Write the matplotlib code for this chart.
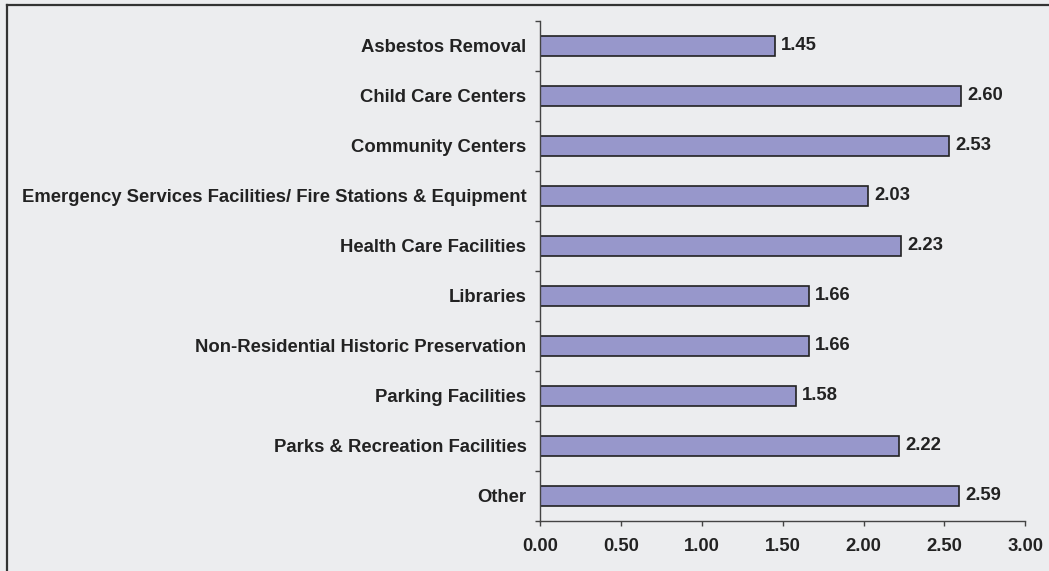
import matplotlib
matplotlib.use("Agg")
import matplotlib.pyplot as plt
from matplotlib.lines import Line2D
import numpy as np

categories = [
    "Asbestos Removal",
    "Child Care Centers",
    "Community Centers",
    "Emergency Services Facilities/ Fire Stations & Equipment",
    "Health Care Facilities",
    "Libraries",
    "Non-Residential Historic Preservation",
    "Parking Facilities",
    "Parks & Recreation Facilities",
    "Other",
]
values = [1.45, 2.60, 2.53, 2.03, 2.23, 1.66, 1.66, 1.58, 2.22, 2.59]
x_ticks = [0.0, 0.5, 1.0, 1.5, 2.0, 2.5, 3.0]

plt.rcParams["font.family"] = ["Liberation Sans", "DejaVu Sans"]
plt.rcParams["font.weight"] = "bold"

bg = "#ecedef"
bar_color = "#9797cb"
ink = "#222222"
axis_grey = "#444444"
fs = 13.3

W, H = 1049, 571
fig = plt.figure(figsize=(W / 100, H / 100), dpi=100, facecolor=bg)
ax = fig.add_axes([540.3 / W, 50 / H, 485 / W, 500 / H])
ax.set_facecolor(bg)

n = len(categories)
pos = np.arange(n)
ax.barh(pos, values, height=0.4, color=bar_color, edgecolor=ink, linewidth=1.2)

for p, v in zip(pos, values):
    ax.annotate(f"{v:.2f}", xy=(v, p), xytext=(4.5, 0), textcoords="offset points",
                va="center", ha="left", fontsize=fs, fontweight="bold", color=ink)

ax.set_ylim(n - 0.5, -0.5)
ax.set_xlim(0, 3.0)
ax.set_yticks(pos)
ax.set_yticklabels(categories, fontsize=fs, fontweight="bold", color=ink)
ax.set_yticks(np.arange(n + 1) - 0.5, minor=True)
ax.tick_params(axis="y", which="major", length=0, pad=10)
ax.tick_params(axis="y", which="minor", length=3.5, width=1, color=axis_grey, direction="out")
ax.set_xticks(x_ticks)
ax.set_xticklabels([f"{t:.2f}" for t in x_ticks], fontsize=fs, fontweight="bold", color=ink)
ax.tick_params(axis="x", length=3.5, width=1, color=axis_grey, direction="out", pad=8.5)

for side in ("top", "right"):
    ax.spines[side].set_visible(False)
for side in ("left", "bottom"):
    ax.spines[side].set_color(axis_grey)
    ax.spines[side].set_linewidth(1.0)

# page frame on the left and top edges
fx = 6.5 / W
fy = 1 - 4.5 / H
fig.add_artist(Line2D([fx, fx], [0, fy], transform=fig.transFigure,
                      color="#333333", linewidth=1.6))
fig.add_artist(Line2D([fx, 1], [fy, fy], transform=fig.transFigure,
                      color="#333333", linewidth=1.6))

fig.savefig("out.png", dpi=100, facecolor=bg)
